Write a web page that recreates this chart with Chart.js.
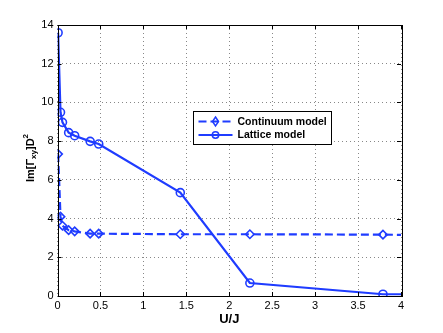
<!DOCTYPE html>
<html><head><meta charset="utf-8">
<script src="https://cdn.jsdelivr.net/npm/chart.js@4"></script>
<style>html,body{margin:0;padding:0;background:#fff}#c{display:block}</style>
</head><body>
<canvas id="c" width="443" height="333"></canvas>
<script>
const uValues = [0.007, 0.035, 0.058, 0.13, 0.2, 0.38, 0.48, 1.43, 2.24, 3.79];
const continuumValues = [7.33, 4.1, 3.63, 3.4, 3.34, 3.22, 3.22, 3.19, 3.19, 3.17];
const latticeValues = [13.6, 9.49, 8.97, 8.44, 8.28, 7.99, 7.85, 5.34, 0.67, 0.09];
const tailU = 4.0;
const continuumTail = 3.16;
const latticeTail = 0.09;
const seriesLabels = ['Continuum model', 'Lattice model'];
const xTicks = [0, 0.5, 1, 1.5, 2, 2.5, 3, 3.5, 4];
const yTicks = [0, 2, 4, 6, 8, 10, 12, 14];

const BLUE = '#1f3cff';
const FONT = '"Liberation Sans", Arial, Helvetica, sans-serif';

function pts(xs, ys, tx, ty){ const a = xs.map((x,i)=>({x, y: ys[i]})); a.push({x: tx, y: ty}); return a; }
const radii = n => uValues.map(()=>n).concat([0]);

const L = 57.5, R = 401, T = 25, B = 296;

const frame = {
  id: 'frame',
  afterDraw(chart){
    const ctx = chart.ctx, a = chart.chartArea, xs = chart.scales.x, ys = chart.scales.y;
    ctx.save();
    ctx.strokeStyle = '#000'; ctx.lineWidth = 1;
    ctx.strokeRect(Math.round(a.left)+0.5, Math.round(a.top)+0.5, Math.round(a.right-a.left), Math.round(a.bottom-a.top));
    ctx.beginPath();
    xTicks.forEach(v=>{ const x = Math.round(xs.getPixelForValue(v))+0.5;
      ctx.moveTo(x, a.bottom); ctx.lineTo(x, a.bottom-4); ctx.moveTo(x, a.top); ctx.lineTo(x, a.top+4); });
    yTicks.forEach(v=>{ const y = Math.round(ys.getPixelForValue(v))+0.5;
      ctx.moveTo(a.left, y); ctx.lineTo(a.left+4, y); ctx.moveTo(a.right, y); ctx.lineTo(a.right-4, y); });
    ctx.stroke();

    // x title
    ctx.fillStyle = '#000';
    ctx.font = 'bold 13px ' + FONT;
    ctx.textAlign = 'center'; ctx.textBaseline = 'middle';
    ctx.fillText('U/J', (a.left+a.right)/2, 319);

    // y title with sub/superscript
    ctx.translate(31, 158);
    ctx.rotate(-Math.PI/2);
    const big = 'bold 11px ' + FONT, small = 'bold 8px ' + FONT;
    const parts = [['Im[\u0393', big, 0], ['xy', small, 3], [']D', big, 0], ['2', small, -5]];
    let w = 0;
    parts.forEach(p=>{ ctx.font = p[1]; w += ctx.measureText(p[0]).width; });
    let x = -w/2;
    ctx.textAlign = 'left'; ctx.textBaseline = 'middle';
    parts.forEach(p=>{ ctx.font = p[1]; ctx.fillText(p[0], x, p[2]); x += ctx.measureText(p[0]).width; });
    ctx.restore();

    // legend box
    ctx.save();
    const bx = 193.5, by = 111.5, bw = 138, bh = 33;
    ctx.fillStyle = '#fff'; ctx.fillRect(bx, by, bw, bh);
    ctx.strokeStyle = '#000'; ctx.lineWidth = 1; ctx.strokeRect(bx, by, bw, bh);
    chart.data.datasets.forEach((ds, i)=>{
      const yy = by + 10 + i*13.5;
      ctx.strokeStyle = BLUE; ctx.lineWidth = 2;
      ctx.setLineDash(ds.borderDash || []);
      ctx.beginPath(); ctx.moveTo(bx+5, yy); ctx.lineTo(bx+39, yy); ctx.stroke();
      ctx.setLineDash([]);
      ctx.lineWidth = 1.5;
      ctx.beginPath();
      const cx = bx+22;
      if (ds.pointStyle === 'rectRot') { ctx.moveTo(cx, yy-4.5); ctx.lineTo(cx+3, yy); ctx.lineTo(cx, yy+4.5); ctx.lineTo(cx-3, yy); ctx.closePath(); }
      else { ctx.arc(cx, yy, 3.2, 0, Math.PI*2); }
      ctx.stroke();
      ctx.fillStyle = '#000'; ctx.font = 'bold 10.5px ' + FONT;
      ctx.textAlign = 'left'; ctx.textBaseline = 'middle';
      ctx.fillText(ds.label, bx+44, yy+0.5);
    });
    ctx.restore();
  }
};

new Chart(document.getElementById('c'), {
  type: 'line',
  data: {
    datasets: [
      { label: seriesLabels[0], data: pts(uValues, continuumValues, tailU, continuumTail),
        borderColor: BLUE, backgroundColor: 'rgba(0,0,0,0)', borderWidth: 2.2, borderDash: [8,4],
        pointStyle: 'rectRot', pointRadius: radii(4.2), pointBorderWidth: 1.6, pointBorderColor: BLUE, pointBackgroundColor: 'rgba(0,0,0,0)', tension: 0 },
      { label: seriesLabels[1], data: pts(uValues, latticeValues, tailU, latticeTail),
        borderColor: BLUE, backgroundColor: 'rgba(0,0,0,0)', borderWidth: 2.2,
        pointStyle: 'circle', pointRadius: radii(4), pointBorderWidth: 1.6, pointBorderColor: BLUE, pointBackgroundColor: 'rgba(0,0,0,0)', tension: 0 }
    ]
  },
  options: {
    responsive: false, animation: false, devicePixelRatio: 1,
    layout: { padding: { left: 0, top: T, right: 443 - R, bottom: 0 } },
    plugins: { legend: { display: false }, tooltip: { enabled: false } },
    scales: {
      x: { type: 'linear', min: 0, max: 4,
        afterBuildTicks: s => { s.ticks = xTicks.map(v=>({value: v})); },
        afterFit: s => { s.height = 333 - B; },
        ticks: { color: '#000', font: { family: FONT, size: 11 }, padding: 3, maxRotation: 0,
          callback: v => String(v) },
        grid: { color: '#888', lineWidth: 1, drawTicks: false, tickLength: 0 },
        border: { display: false, dash: [1,3] } },
      y: { type: 'linear', min: 0, max: 14,
        afterBuildTicks: s => { s.ticks = yTicks.map(v=>({value: v})); },
        afterFit: s => { s.width = L; },
        ticks: { color: '#000', font: { family: FONT, size: 11 }, padding: 4, callback: v => String(v) },
        grid: { color: '#888', lineWidth: 1, drawTicks: false, tickLength: 0 },
        border: { display: false, dash: [1,3] } }
    }
  },
  plugins: [frame]
});
</script>
</body></html>
